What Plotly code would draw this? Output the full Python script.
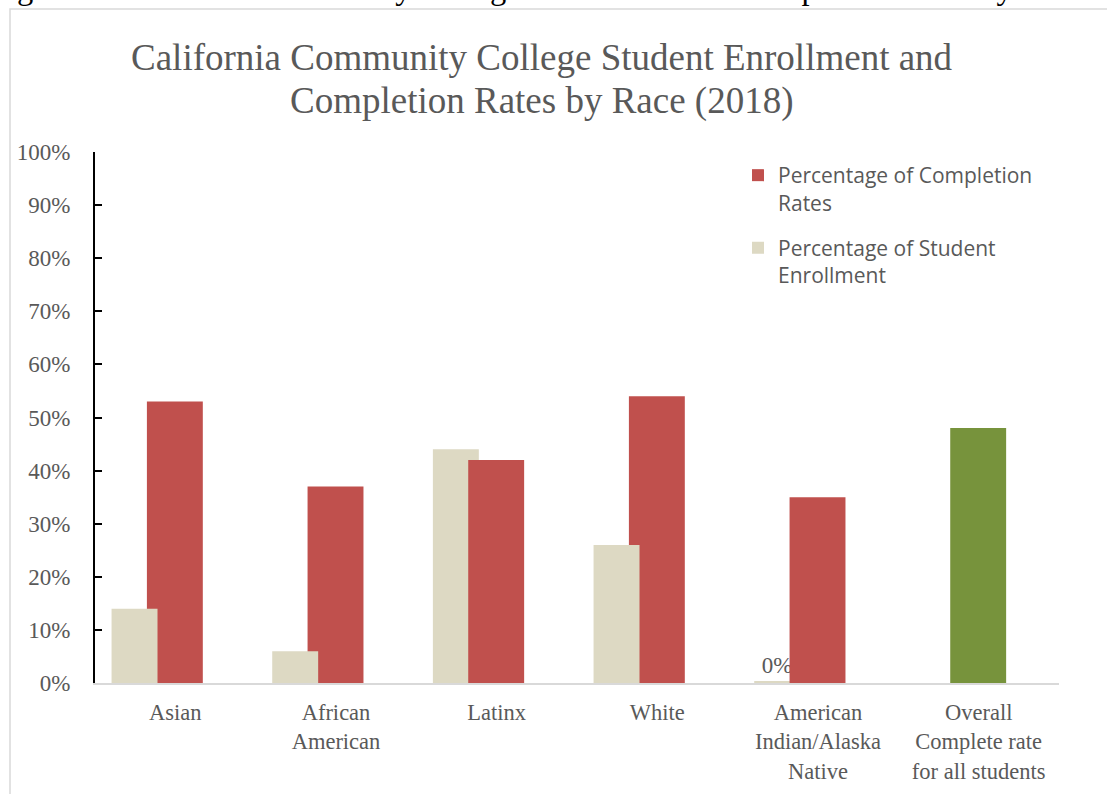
import plotly.graph_objects as go

# ---- data ----
categories = ["Asian", "African American", "Latinx", "White",
              "American Indian/Alaska Native", "Overall Complete rate for all students"]
tick_labels = ["Asian", "African<br>American", "Latinx", "White",
               "American<br>Indian/Alaska<br>Native", "Overall<br>Complete rate<br>for all students"]
completion = [53, 37, 42, 54, 35, 48]          # Percentage of Completion Rates
enrollment = [14, 6, 44, 26, 0.4, None]        # Percentage of Student Enrollment
y_ticks = [0, 10, 20, 30, 40, 50, 60, 70, 80, 90, 100]
y_tick_text = [f"{v}%" for v in y_ticks]

# categories where the completion bar is drawn in front of the enrollment bar
enroll_behind = ["Latinx", "American Indian/Alaska Native"]
# categories with a data label on the enrollment bar
enroll_labelled = ["American Indian/Alaska Native"]

RED = "#C0504D"
BEIGE = "#DDD9C3"
GREEN = "#77933C"
GREY_TXT = "#595959"
SERIF = "Liberation Serif, Times New Roman, serif"
SANS = "Open Sans, Liberation Sans, sans-serif"

comp_colors = [GREEN if c.startswith("Overall") else RED for c in categories]

# plot-area geometry in pixels (for converting annotation positions)
L, R, T, B = 95, 48, 152, 111
PW, PH = 1107 - L - R, 794 - T - B


def px_x(x):
    return (x - L) / PW


def px_y(y):
    return (794 - B - y) / PH


def enroll_subset(behind):
    xs, ys, ts = [], [], []
    for c, v in zip(categories, enrollment):
        if v is None or ((c in enroll_behind) != behind):
            continue
        xs.append(c)
        ys.append(v)
        ts.append(f"{round(v)}%" if c in enroll_labelled else "")
    return xs, ys, ts


fig = go.Figure()

bx, by, bt = enroll_subset(True)
fig.add_trace(go.Bar(
    x=bx, y=by, text=bt, textposition="outside", cliponaxis=False,
    textfont=dict(family=SERIF, size=23, color=GREY_TXT),
    marker=dict(color=BEIGE, line=dict(width=0)),
    width=0.286, offset=-0.397, name="Percentage of Student<br>Enrollment",
    showlegend=False, legendgroup="enr", hoverinfo="skip"))

fig.add_trace(go.Bar(
    x=categories, y=completion,
    marker=dict(color=comp_colors, line=dict(width=0)),
    width=0.348, offset=-0.177, name="Percentage of Completion<br>Rates",
    legendgroup="comp"))

fx, fy, ft = enroll_subset(False)
fig.add_trace(go.Bar(
    x=fx, y=fy, text=ft, textposition="outside", cliponaxis=False,
    textfont=dict(family=SERIF, size=23, color=GREY_TXT),
    marker=dict(color=BEIGE, line=dict(width=0)),
    width=0.286, offset=-0.397, name="Percentage of Student<br>Enrollment",
    legendgroup="enr"))

fig.update_layout(
    width=1107, height=794,
    margin=dict(l=L, r=R, t=T, b=B, autoexpand=False),
    paper_bgcolor="white", plot_bgcolor="white",
    barmode="overlay",
    showlegend=True,
    legend=dict(x=px_x(738), xanchor="left", y=px_y(155), yanchor="top",
                font=dict(family=SANS, size=21, color=GREY_TXT),
                traceorder="grouped", tracegroupgap=15,
                bgcolor="rgba(0,0,0,0)", valign="top"),
    annotations=[
        dict(text="California Community College Student Enrollment and",
             x=px_x(542), xref="paper", y=px_y(58), yref="paper", yanchor="middle",
             showarrow=False, font=dict(family=SERIF, size=37, color=GREY_TXT)),
        dict(text="Completion Rates by Race (2018)",
             x=px_x(542), xref="paper", y=px_y(101), yref="paper", yanchor="middle",
             showarrow=False, font=dict(family=SERIF, size=37, color=GREY_TXT)),
        dict(text="Figure 3: California Community College Enrollment and Completion Rates by Race",
             x=px_x(538), xref="paper", y=px_y(8), yref="paper", yanchor="bottom",
             showarrow=False, font=dict(family=SERIF, size=32.5, color="black")),
    ],
)

fig.update_xaxes(
    categoryorder="array", categoryarray=categories,
    tickvals=categories, ticktext=tick_labels,
    showline=True, linecolor="#D9D9D9", linewidth=2,
    ticks="", showgrid=False, zeroline=False, automargin=False,
    tickfont=dict(family=SERIF, size=22.5, color=GREY_TXT),
    ticklabelstandoff=8,
)
fig.update_yaxes(
    range=[0, 100], tickvals=y_ticks, ticktext=y_tick_text,
    showline=True, linecolor="black", linewidth=2,
    ticks="inside", ticklen=7, tickwidth=2, tickcolor="black",
    showgrid=False, zeroline=False, automargin=False,
    tickfont=dict(family=SERIF, size=23, color=GREY_TXT),
    ticklabelstandoff=18,
)

# chart border (light grey frame)
fig.add_shape(type="rect", xref="paper", yref="paper",
              x0=px_x(10), x1=px_x(1120), y0=px_y(810), y1=px_y(9),
              line=dict(color="#D9D9D9", width=1.5), fillcolor="rgba(0,0,0,0)", layer="below")

fig.write_html("out.html")
